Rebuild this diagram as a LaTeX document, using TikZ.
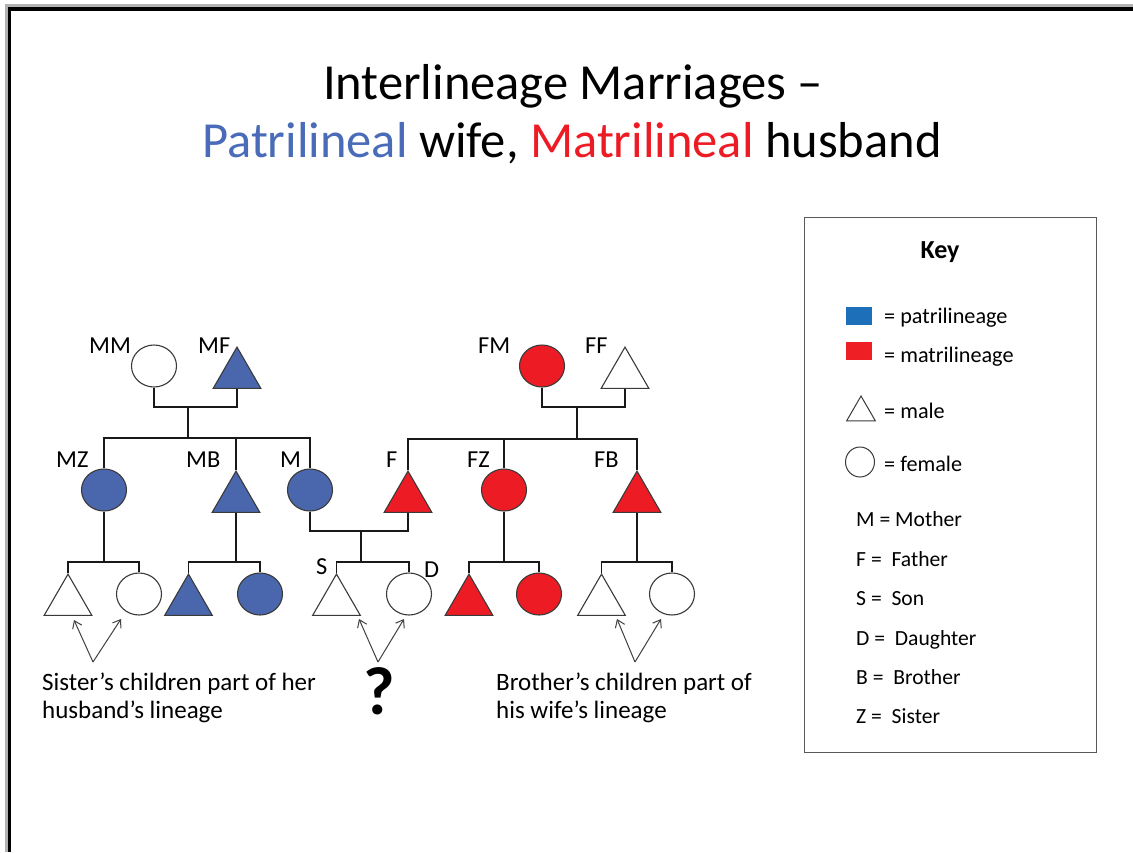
\documentclass[tikz,border=0pt]{standalone}
\usepackage{fontspec}
\setmainfont{Carlito}
\usetikzlibrary{shapes.geometric,arrows.meta}
\definecolor{pblue}{HTML}{4A66AD}
\definecolor{pred}{HTML}{ED1C24}
\definecolor{tblue}{HTML}{4A6CB8}
\definecolor{keyblue}{HTML}{1E6FBA}
\definecolor{keyred}{HTML}{EE2026}
\definecolor{outl}{HTML}{3A3A3A}

\begin{document}
\begin{tikzpicture}[x=1pt,y=-1pt,
  fem/.style={ellipse, draw=outl, line width=1.1pt, minimum width=45pt, minimum height=42pt, inner sep=0pt},
  mal/.style={regular polygon, regular polygon sides=3, draw=outl, line width=1.1pt, minimum size=55pt, inner sep=0pt, anchor=north},
  patri/.style={fill=pblue},
  matri/.style={fill=pred},
  plain/.style={fill=white},
  kin/.style={draw=black!90, line width=1.2pt},
  arr/.style={-{Straight Barb[length=7pt,width=10pt]}, draw=black!75, line width=1pt},
  lbl/.style={font=\fontsize{24.4}{28}\selectfont, anchor=base west, inner sep=0pt},
  note/.style={font=\fontsize{25}{29}\selectfont, anchor=base west, inner sep=0pt, align=left},
  keytxt/.style={font=\fontsize{22.2}{26}\selectfont, anchor=base west, inner sep=0pt},
  abbr/.style={font=\fontsize{21.6}{26}\selectfont, anchor=base west, inner sep=0pt},
  swatch/.style={minimum width=26pt, minimum height=17.5pt, inner sep=0pt, anchor=north west}
]
\useasboundingbox (0,0) rectangle (1133,852);

% slide frame
\draw[line width=3.3pt, color=black!30] (7,852) -- (7,5.7) -- (1133,5.7);
\draw[line width=3.3pt, color=black] (9.7,852) -- (9.7,9) -- (1133,9);

% title
\node[font=\fontsize{50.5}{60}\selectfont, anchor=base, inner sep=0pt] (t1) at (573,99) {Interlineage Marriages –};
\node[font=\fontsize{50.5}{60}\selectfont, anchor=base, inner sep=0pt] (t2) at (572,157)
  {{\color{tblue}Patrilineal} wife, {\color{pred}Matrilineal} husband};

% grandparents
\node[fem, plain] (mm) at (154,366) {};
\node[mal, patri] (mf) at (237,346) {};
\node[fem, matri] (fm) at (542,366) {};
\node[mal, plain] (ff) at (625,346) {};

% parents' generation
\node[fem, patri] (mz) at (104,490) {};
\node[mal, patri] (mb) at (236,470) {};
\node[fem, patri] (m)  at (310,490) {};
\node[mal, matri] (f)  at (408,470) {};
\node[fem, matri] (fz) at (504,490) {};
\node[mal, matri] (fb) at (637,470) {};

% children
\node[mal, plain] (c1) at (68,573) {};
\node[fem, plain] (c2) at (139,594) {};
\node[mal, patri] (c3) at (188.5,573) {};
\node[fem, patri] (c4) at (260,594) {};
\node[mal, plain] (s)  at (336.5,573) {};
\node[fem, plain] (d)  at (409,594) {};
\node[mal, matri] (c5) at (469,573) {};
\node[fem, matri] (c6) at (539,594) {};
\node[mal, plain] (c7) at (601.5,573) {};
\node[fem, plain] (c8) at (672,594) {};

% kin labels
\node[lbl] (lmm) at (89,353) {MM};
\node[lbl] (lmf) at (198,353) {MF};
\node[lbl] (lfm) at (478,353) {FM};
\node[lbl] (lff) at (585,353) {FF};
\node[lbl] (lmz) at (56,467) {MZ};
\node[lbl] (lmb) at (186,467) {MB};
\node[lbl] (lm)  at (280,467) {M};
\node[lbl] (lf)  at (386,467) {F};
\node[lbl] (lfz) at (467,467) {FZ};
\node[lbl] (lfb) at (594,467) {FB};
\node[lbl] (ls)  at (316,574) {S};
\node[lbl] (ld)  at (424,577) {D};

% mother's parents and siblings
\coordinate (mmj) at (188,407);
\coordinate (mms) at (188,438);
\draw[kin] (mm.south) |- (mmj) -| (mf.south);
\draw[kin] (mmj) -- (mms);
\draw[kin] (mz.north) |- (mms) -| (m.north);
\draw[kin] (mms -| mb.north) -- (mb.north);

% father's parents and siblings
\coordinate (fmj) at (577,407);
\coordinate (fms) at (577,439);
\draw[kin] (fm.south) |- (fmj) -| (ff.south);
\draw[kin] (fmj) -- (fms);
\draw[kin] (f.north) |- (fms) -| (fb.north);
\draw[kin] (fms -| fz.north) -- (fz.north);

% sister's children
\coordinate (mzk) at (104,562);
\draw[kin] (mz.south) -- (mzk);
\draw[kin] (c1.north) |- (mzk) -| (c2.north);

% mother's brother's children
\coordinate (mbk) at (mb.south |- mzk);
\draw[kin] (mb.south) -- (mbk);
\draw[kin] (c3.north) |- (mbk) -| (c4.north);

% marriage of M and F
\coordinate (mfj) at (361,531);
\coordinate (mfk) at (361,562);
\draw[kin] (m.south) |- (mfj) -| (f.south);
\draw[kin] (mfj) -- (mfk);
\draw[kin] (s.north) |- (mfk) -| (d.north);

% father's sister's children
\coordinate (fzk) at (fz.south |- mzk);
\draw[kin] (fz.south) -- (fzk);
\draw[kin] (c5.north) |- (fzk) -| (c6.north);

% father's brother's children
\coordinate (fbk) at (fb.south |- mzk);
\draw[kin] (fb.south) -- (fbk);
\draw[kin] (c7.north) |- (fbk) -| (c8.north);

% pointer arrows
\coordinate (a1) at (93,662);
\coordinate (a1l) at (74,620);
\coordinate (a1r) at (121,619);
\draw[arr] (a1) -- (a1l);
\draw[arr] (a1) -- (a1r);
\coordinate (a2) at (378,662);
\coordinate (a2l) at (359,619);
\coordinate (a2r) at (404,619);
\draw[arr] (a2) -- (a2l);
\draw[arr] (a2) -- (a2r);
\coordinate (a3) at (635,662);
\coordinate (a3l) at (617,619);
\coordinate (a3r) at (661,619);
\draw[arr] (a3) -- (a3l);
\draw[arr] (a3) -- (a3r);

% notes
\node[note] (n1) at (42,690) {Sister’s children part of her};
\node[note] (n1b) at (42,718) {husband’s lineage};
\node[font=\fontsize{68}{72}\selectfont\bfseries, inner sep=0pt] (q) at (379,691) {?};
\node[note] (n2) at (496,690) {Brother’s children part of};
\node[note] (n2b) at (496,718) {his wife’s lineage};

% key
\node[draw=black!65, line width=1.2pt, anchor=north west, minimum width=292pt, minimum height=535pt, inner sep=0pt] (keybox) at (804,217) {};
\node[font=\fontsize{26}{30}\selectfont\bfseries, anchor=base, inner sep=0pt] (keyt) at (940,258) {Key};
\node[swatch, fill=keyblue] (kb) at (846,307) {};
\node[swatch, fill=keyred] (kr) at (846,342) {};
\node[mal, plain, minimum size=33pt, line width=1pt] (km) at (861,395) {};
\node[fem, plain, minimum width=29pt, minimum height=30pt, line width=1pt] (kf) at (860,462) {};
\node[keytxt] (kbt) at (884,323) {= patrilineage};
\node[keytxt] (krt) at (884,362) {= matrilineage};
\node[keytxt] (kmt) at (884,418) {= male};
\node[keytxt] (kft) at (884,471) {= female};
\node[abbr] (k1) at (856,526) {M = Mother};
\node[abbr] (k2) at (856,566) {F =\ \ Father};
\node[abbr] (k3) at (856,605) {S =\ \ Son};
\node[abbr] (k4) at (856,645) {D =\ \ Daughter};
\node[abbr] (k5) at (856,684) {B =\ \ Brother};
\node[abbr] (k6) at (856,723) {Z =\ \ Sister};
\end{tikzpicture}
\end{document}
